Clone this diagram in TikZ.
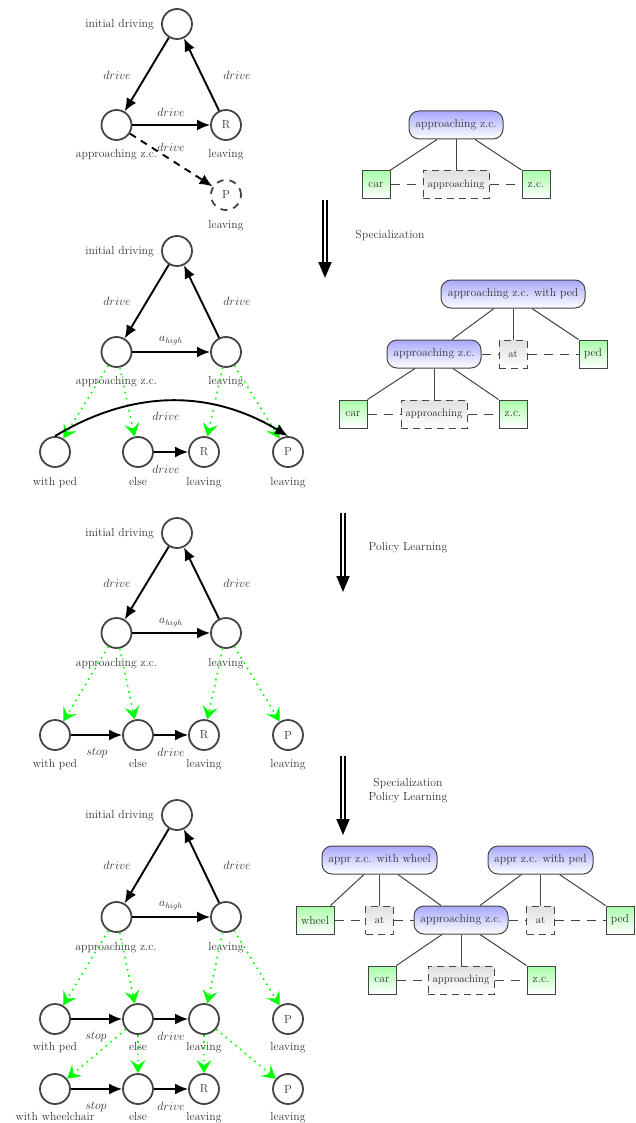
\documentclass[tikz,border=0pt]{standalone}
\usetikzlibrary{arrows.meta,calc,shapes.geometric}
\definecolor{ink}{HTML}{444444}
\definecolor{txt}{HTML}{333333}
\definecolor{boxblue}{HTML}{A8A8FF}
\definecolor{boxgreen}{HTML}{A8FFA8}
\definecolor{boxgray}{HTML}{E0E0E0}
\tikzset{
  every node/.style={font=\fontsize{11.7}{14}\selectfont,text=txt,inner sep=0pt},
  st/.style={circle,draw=ink,line width=1.8pt,minimum size=30pt,fill=white},
  stdash/.style={st,dash pattern=on 7pt off 6pt},
  lbl/.style={text height=9pt,text depth=1.5pt},
  edgeb/.style={-{Latex[length=13pt,width=11pt]},line width=1.9pt,black},
  edged/.style={edgeb,dash pattern=on 7pt off 6pt},
  edgeg/.style={-{Stealth[length=13pt,width=15pt,inset=5pt]},green,line width=1.6pt,dash pattern=on 1.6pt off 4.6pt,line cap=butt},
  pred/.style={draw=ink,line width=1pt,rounded corners=10pt,top color=boxblue,bottom color=white,minimum height=28pt},
  obj/.style={draw=ink,line width=1pt,top color=boxgreen,bottom color=white,minimum height=28pt,minimum width=28pt},
  rel/.style={draw=ink,line width=1pt,dash pattern=on 7pt off 5pt,top color=boxgray,bottom color=white,minimum height=28pt,font=\fontsize{10.7}{13}\selectfont},
  link/.style={draw=ink,line width=1pt},
  dlink/.style={draw=ink,line width=1pt,dash pattern=on 9pt off 7pt},
  bigarrow/.style={double,double distance=2.6pt,line width=1.9pt,black,-{Triangle[length=16pt,width=13pt]}},
}
\begin{document}
\begin{tikzpicture}[x=1pt,y=-1pt]
\useasboundingbox (0,0) rectangle (636,1123);
% ---------- graph 1
\node[st] (a1) at (177,24) {};
\node[st] (b1) at (116.5,125) {};
\node[st] (c1) at (226,125) {R};
\node[stdash] (d1) at (226,195) {P};
\node[lbl,anchor=east] (a1l) at (154,24) {initial driving};
\node[lbl] (b1l) at (116.5,154) {approaching z.c.};
\node[lbl] (c1l) at (226,154) {leaving};
\node[lbl] (d1l) at (226,225) {leaving};
\node[lbl] (e1a) at (117,76) {$drive$};
\node[lbl] (e1b) at (237,76) {$drive$};
\node[lbl] (e1c) at (171,113) {$drive$};
\node[lbl] (e1d) at (171,148) {$drive$};
\draw[edgeb] (a1) -- (b1);
\draw[edgeb] (c1) -- (a1);
\draw[edgeb] (b1) -- (c1);
\draw[edged] (b1) -- (d1);
% ---------- graph 2
\node[st] (a2) at (177,251) {};
\node[st] (b2) at (116.5,352) {};
\node[st] (c2) at (226,352) {};
\node[st] (f2) at (55,452) {};
\node[st] (g2) at (138,452) {};
\node[st] (h2) at (204,452) {R};
\node[st] (i2) at (288,452) {P};
\node[lbl,anchor=east] (a2l) at (154,251) {initial driving};
\node[lbl] (b2l) at (116.5,381) {approaching z.c.};
\node[lbl] (c2l) at (226,381) {leaving};
\node[lbl] (f2l) at (55,482) {with ped};
\node[lbl] (g2l) at (138,482) {else};
\node[lbl] (h2l) at (204,482) {leaving};
\node[lbl] (i2l) at (288,482) {leaving};
\node[lbl] (e2a) at (117,302) {$drive$};
\node[lbl] (e2b) at (237,302) {$drive$};
\node[lbl] (e2c) at (171,338) {$a_{high}$};
\node[lbl] (e2d) at (166,417) {$drive$};
\node[lbl] (e2e) at (166,470) {$drive$};
\draw[edgeb] (a2) -- (b2);
\draw[edgeb] (c2) -- (a2);
\draw[edgeb] (b2) -- (c2);
\draw[edgeb] (g2) -- (h2);
\draw[edgeg] (b2) -- (f2);
\draw[edgeg] (b2) -- (g2);
\draw[edgeg] (c2) -- (h2);
\draw[edgeg] (c2) -- (i2);
\draw[edgeb] (f2.north) to[bend left=31] (i2.north);
% ---------- graph 3
\node[st] (a3) at (177,533) {};
\node[st] (b3) at (116.5,633) {};
\node[st] (c3) at (226,633) {};
\node[st] (f3) at (55,735) {};
\node[st] (g3) at (138,735) {};
\node[st] (h3) at (204,735) {R};
\node[st] (i3) at (288,735) {P};
\node[lbl,anchor=east] (a3l) at (154,533) {initial driving};
\node[lbl] (b3l) at (116.5,663) {approaching z.c.};
\node[lbl] (c3l) at (226,663) {leaving};
\node[lbl] (f3l) at (55,764) {with ped};
\node[lbl] (g3l) at (138,764) {else};
\node[lbl] (h3l) at (204,764) {leaving};
\node[lbl] (i3l) at (288,764) {leaving};
\node[lbl] (e3a) at (117,584) {$drive$};
\node[lbl] (e3b) at (237,584) {$drive$};
\node[lbl] (e3c) at (171,620) {$a_{high}$};
\node[lbl] (e3d) at (97,752) {$stop$};
\node[lbl] (e3e) at (171,753) {$drive$};
\draw[edgeb] (a3) -- (b3);
\draw[edgeb] (c3) -- (a3);
\draw[edgeb] (b3) -- (c3);
\draw[edgeb] (f3) -- (g3);
\draw[edgeb] (g3) -- (h3);
\draw[edgeg] (b3) -- (f3);
\draw[edgeg] (b3) -- (g3);
\draw[edgeg] (c3) -- (h3);
\draw[edgeg] (c3) -- (i3);
% ---------- graph 4
\node[st] (a4) at (177,815) {};
\node[st] (b4) at (116.5,917) {};
\node[st] (c4) at (226,917) {};
\node[st] (f4) at (55,1019) {};
\node[st] (g4) at (138,1019) {};
\node[st] (h4) at (204,1019) {};
\node[st] (i4) at (288,1019) {P};
\node[st] (j4) at (55,1089) {};
\node[st] (k4) at (138,1089) {};
\node[st] (l4) at (204,1089) {R};
\node[st] (m4) at (288,1089) {P};
\node[lbl,anchor=east] (a4l) at (154,815) {initial driving};
\node[lbl] (b4l) at (116,947) {approaching z.c.};
\node[lbl] (c4l) at (226,947) {leaving};
\node[lbl] (f4l) at (55,1047) {with ped};
\node[lbl] (g4l) at (138,1047) {else};
\node[lbl] (h4l) at (204,1047) {leaving};
\node[lbl] (i4l) at (288,1047) {leaving};
\node[lbl] (j4l) at (55,1117) {with wheelchair};
\node[lbl] (k4l) at (138,1117) {else};
\node[lbl] (l4l) at (204,1117) {leaving};
\node[lbl] (m4l) at (288,1117) {leaving};
\node[lbl] (e4a) at (117,866) {$drive$};
\node[lbl] (e4b) at (237,866) {$drive$};
\node[lbl] (e4c) at (171,903) {$a_{high}$};
\node[lbl] (e4d) at (96,1036) {$stop$};
\node[lbl] (e4e) at (171,1037) {$drive$};
\node[lbl] (e4f) at (96,1106) {$stop$};
\node[lbl] (e4g) at (171,1107) {$drive$};
\draw[edgeb] (a4) -- (b4);
\draw[edgeb] (c4) -- (a4);
\draw[edgeb] (b4) -- (c4);
\draw[edgeb] (f4) -- (g4);
\draw[edgeb] (g4) -- (h4);
\draw[edgeb] (j4) -- (k4);
\draw[edgeb] (k4) -- (l4);
\draw[edgeg] (b4) -- (f4);
\draw[edgeg] (b4) -- (g4);
\draw[edgeg] (c4) -- (h4);
\draw[edgeg] (c4) -- (i4);
\draw[edgeg] (g4) -- (j4);
\draw[edgeg] (g4) -- (k4);
\draw[edgeg] (h4) -- (l4);
\draw[edgeg] (h4) -- (m4);
% ---------- transformation arrows
\coordinate (ar1s) at (325,200); \coordinate (ar1e) at (325,278);
\coordinate (ar2s) at (343,513); \coordinate (ar2e) at (343,592);
\coordinate (ar3s) at (343,756); \coordinate (ar3e) at (343,835);
\draw[bigarrow] (ar1s) -- (ar1e);
\draw[bigarrow] (ar2s) -- (ar2e);
\draw[bigarrow] (ar3s) -- (ar3e);
\node[lbl] (t1) at (390,235) {Specialization};
\node[lbl] (t2) at (408,547) {Policy Learning};
\node[align=center] (t3) at (408,791) {Specialization\\Policy Learning};
% ---------- relational diagram 1
\node[pred,minimum width=94pt] (p1) at (456,125) {approaching z.c.};
\node[obj] (car1) at (376,184.5) {car};
\node[rel,minimum width=66pt] (r1) at (456,184.5) {approaching};
\node[obj] (zc1) at (536,184.5) {z.c.};
\draw[link] ($(p1.south)+(-19,0)$) -- (car1.north east);
\draw[link] (p1.south) -- (r1.north);
\draw[link] ($(p1.south)+(19,0)$) -- (zc1.north west);
\draw[dlink] (car1) -- (r1);
\draw[dlink] (r1) -- (zc1);
% ---------- relational diagram 2
\node[pred,minimum width=144pt] (p2) at (513,294) {approaching z.c. with ped};
\node[pred,minimum width=94pt] (q2) at (434,354) {approaching z.c.};
\node[rel,minimum width=28pt] (r2) at (513,354) {at};
\node[obj] (ped2) at (593,354) {ped};
\node[obj] (car2) at (353,414) {car};
\node[rel,minimum width=66pt] (s2) at (434,414) {approaching};
\node[obj] (zc2) at (513,414) {z.c.};
\draw[link] ($(p2.south)+(-19,0)$) -- ($(q2.north)+(18,0)$);
\draw[link] (p2.south) -- (r2.north);
\draw[link] ($(p2.south)+(19,0)$) -- (ped2.north west);
\draw[link] ($(q2.south)+(-19,0)$) -- (car2.north east);
\draw[link] (q2.south) -- (s2.north);
\draw[link] ($(q2.south)+(19,0)$) -- (zc2.north west);
\draw[dlink] (q2) -- (r2);
\draw[dlink] (r2) -- (ped2);
\draw[dlink] (car2) -- (s2);
\draw[dlink] (s2) -- (zc2);
% ---------- relational diagram 3
\node[pred,minimum width=115pt] (p3) at (379.5,860) {appr z.c. with wheel};
\node[pred,minimum width=105pt] (u3) at (540.5,860) {appr z.c. with ped};
\node[obj,minimum width=38pt] (wh3) at (315,920) {wheel};
\node[rel,minimum width=28pt] (r3) at (379.5,920) {at};
\node[pred,minimum width=94pt] (q3) at (461,920) {approaching z.c.};
\node[rel,minimum width=28pt] (v3) at (540.5,920) {at};
\node[obj] (ped3) at (620,920) {ped};
\node[obj] (car3) at (382,980) {car};
\node[rel,minimum width=66pt] (s3) at (461,980) {approaching};
\node[obj] (zc3) at (541,980) {z.c.};
\draw[link] ($(p3.south)+(-15.5,0)$) -- ($(wh3.north east)+(-4,0)$);
\draw[link] (p3.south) -- (r3.north);
\draw[link] ($(p3.south)+(18.5,0)$) -- ($(q3.north)+(-20,0)$);
\draw[link] ($(u3.south)+(-19,0)$) -- ($(q3.north)+(19,0)$);
\draw[link] (u3.south) -- (v3.north);
\draw[link] ($(u3.south)+(19,0)$) -- (ped3.north west);
\draw[link] ($(q3.south)+(-19,0)$) -- (car3.north east);
\draw[link] (q3.south) -- (s3.north);
\draw[link] ($(q3.south)+(19,0)$) -- (zc3.north west);
\draw[dlink] (wh3) -- (r3);
\draw[dlink] (r3) -- (q3);
\draw[dlink] (q3) -- (v3);
\draw[dlink] (v3) -- (ped3);
\draw[dlink] (car3) -- (s3);
\draw[dlink] (s3) -- (zc3);
\end{tikzpicture}
\end{document}
